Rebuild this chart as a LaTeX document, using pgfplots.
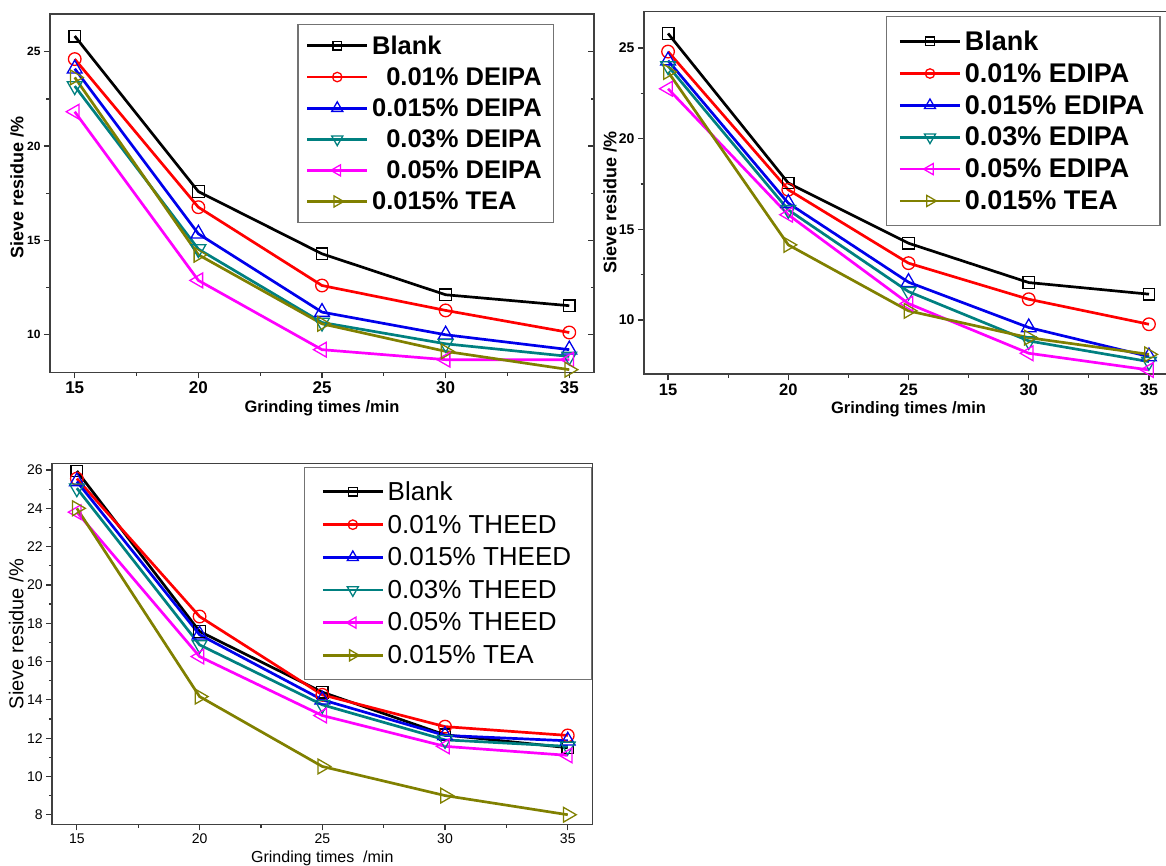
\documentclass[border=0pt]{standalone}
\usepackage{fontspec}
\setmainfont{Liberation Sans}
\usepackage{pgfplots}
\pgfplotsset{compat=1.18}
\definecolor{cRed}{RGB}{255,0,0}
\definecolor{cBlue}{RGB}{0,0,235}
\definecolor{cTeal}{RGB}{0,128,128}
\definecolor{cMag}{RGB}{255,0,255}
\definecolor{cOli}{RGB}{128,128,0}
\newcommand{\fs}[1]{\fontsize{#1}{#1}\selectfont}
\pgfplotsset{
  base/.style={scale only axis, xmin=14, xmax=36, xtick={15,20,25,30,35},
    minor x tick num=1, minor y tick num=1,
    tick pos=left, tick align=outside, major tick length=6pt, minor tick length=3.5pt,
    tick style={black!80, line width=1.2pt},
    axis line style={black!75, line width=1.6pt},
    /pgf/number format/assume math mode=true,
    legend cell align=left,
    legend image code/.code={\draw[mark repeat=2,mark phase=2,##1] plot coordinates {(0pt,0pt) (30pt,0pt) (60pt,0pt)};},
    legend image post style={every mark/.append style={scale=0.75}},
  },
  sA/.style={black, line width=2.7pt, mark=square, mark size=5.8pt, mark options={fill=white, line width=1.3pt}},
  sB/.style={cRed, line width=2.7pt, mark=o, mark size=6.3pt, mark options={fill=white, line width=1.3pt}},
  sC/.style={cBlue, line width=2.7pt, mark=triangle, mark size=8.5pt, mark options={fill=white, line width=1.3pt}},
  sD/.style={cTeal, line width=2.7pt, mark=triangle, mark size=8.5pt, mark options={fill=white, line width=1.3pt, rotate=180}},
  sE/.style={cMag, line width=2.7pt, mark=triangle, mark size=8.5pt, mark options={fill=white, line width=1.3pt, rotate=90}},
  sF/.style={cOli, line width=2.7pt, mark=triangle, mark size=8.5pt, mark options={fill=white, line width=1.3pt, rotate=-90}},
}
\begin{document}
\begin{tikzpicture}
\useasboundingbox (0,0) rectangle (1166pt,865pt);
\clip (0,0) rectangle (1166pt,865pt);
% ---------------- Panel 1: DEIPA ----------------
\begin{axis}[base, at={(50pt,492.5pt)}, anchor=south west, width=544pt, height=358.5pt,
  ymin=8, ymax=27, ytick={10,15,20,25},
  xticklabel style={font=\bfseries\fs{17}}, yticklabel style={font=\bfseries\fs{12}},
  xlabel={Grinding times /min}, ylabel={Sieve residue /\%},
  xlabel style={font=\bfseries\fs{16.5}, at={(axis description cs:0.5,0)}, anchor=base, yshift=-40.5pt},
  ylabel style={font=\bfseries\fs{18}, at={(axis description cs:-0.0607,0.515)}, anchor=center},
  legend style={at={(0.4546,0.972)}, anchor=north west, draw=black!55, line width=1.2pt,
    inner xsep=8pt, inner ysep=9pt, font=\bfseries\fs{25.5},
    nodes={inner xsep=3.5pt, inner ysep=2pt}, row sep=7.8pt}]
\addplot[sA] coordinates {(15,25.83) (20,17.59) (25,14.29) (30,12.12) (35,11.54)};
\addlegendentry{Blank}
\addplot[sB] coordinates {(15,24.61) (20,16.76) (25,12.61) (30,11.29) (35,10.12)};
\addlegendentry{\hphantom{5}0.01\% DEIPA}
\addplot[sC] coordinates {(15,24.1) (20,15.35) (25,11.2) (30,10.0) (35,9.21)};
\addlegendentry{0.015\% DEIPA}
\addplot[sD] coordinates {(15,23.18) (20,14.54) (25,10.65) (30,9.52) (35,8.85)};
\addlegendentry{\hphantom{5}0.03\% DEIPA}
\addplot[sE] coordinates {(15,21.82) (20,12.88) (25,9.21) (30,8.68) (35,8.68)};
\addlegendentry{\hphantom{5}0.05\% DEIPA}
\addplot[sF] coordinates {(15,23.64) (20,14.24) (25,10.58) (30,9.12) (35,8.15)};
\addlegendentry{0.015\% TEA}
\end{axis}
% right-hand axis ticks of panel 1 (pointing inward)
\begin{axis}[scale only axis, at={(50pt,492.5pt)}, anchor=south west, width=544pt, height=358.5pt,
  xmin=14, xmax=36, ymin=8, ymax=27, axis y line*=right, axis x line=none,
  ytick={10,15,20,25}, minor y tick num=1, yticklabels={}, tick align=inside,
  major tick length=6pt, minor tick length=3.5pt,
  tick style={black!80, line width=1.2pt}, axis line style={black!75, line width=1.6pt}]
\end{axis}
% ---------------- Panel 2: EDIPA ----------------
\begin{axis}[base, at={(644pt,490.7pt)}, anchor=south west, width=529pt, height=362.6pt,
  ymin=7, ymax=27, ytick={10,15,20,25},
  xticklabel style={font=\bfseries\fs{16.5}}, yticklabel style={font=\bfseries\fs{14}},
  xlabel={Grinding times /min}, ylabel={Sieve residue /\%},
  xlabel style={font=\bfseries\fs{16.5}, at={(axis description cs:0.5,0)}, anchor=base, yshift=-39pt},
  ylabel style={font=\bfseries\fs{18}, at={(axis description cs:-0.0643,0.475)}, anchor=center},
  legend style={at={(0.4575,0.9876)}, anchor=north west, draw=black!55, line width=1.2pt,
    inner xsep=12pt, inner ysep=12pt, font=\bfseries\fs{27},
    nodes={inner xsep=3.5pt, inner ysep=2pt}, row sep=7.5pt}]
\addplot[sA] coordinates {(15,25.8) (20,17.55) (25,14.23) (30,12.06) (35,11.42)};
\addlegendentry{Blank}
\addplot[sB] coordinates {(15,24.8) (20,17.18) (25,13.13) (30,11.14) (35,9.76)};
\addlegendentry{0.01\% EDIPA}
\addplot[sC] coordinates {(15,24.3) (20,16.44) (25,12.08) (30,9.58) (35,7.98)};
\addlegendentry{0.015\% EDIPA}
\addplot[sD] coordinates {(15,24.0) (20,16.07) (25,11.56) (30,8.84) (35,7.70)};
\addlegendentry{0.03\% EDIPA}
\addplot[sE] coordinates {(15,22.75) (20,15.8) (25,10.9) (30,8.16) (35,7.24)};
\addlegendentry{0.05\% EDIPA}
\addplot[sF] coordinates {(15,23.68) (20,14.14) (25,10.5) (30,9.02) (35,8.1)};
\addlegendentry{0.015\% TEA}
\end{axis}
% ---------------- Panel 3: THEED ----------------
\begin{axis}[base, at={(52.3pt,40.7pt)}, anchor=south west, width=540pt, height=361pt,
  ymin=7.5, ymax=26.35, ytick={8,10,...,26},
  xticklabel style={font=\fs{14}}, yticklabel style={font=\fs{14}},
  xlabel={Grinding times \ /min}, ylabel={Sieve residue /\%},
  xlabel style={font=\fs{16}, at={(axis description cs:0.5,0)}, anchor=base, yshift=-37.7pt},
  ylabel style={font=\fs{20}, at={(axis description cs:-0.067,0.527)}, anchor=center},
  legend style={at={(1,0.99)}, anchor=north east, draw=black!55, line width=1.2pt,
    inner xsep=17pt, inner ysep=12pt, font=\fs{26},
    nodes={inner xsep=3.5pt, inner ysep=2pt}, row sep=9pt}]
\addplot[sA] coordinates {(15,25.95) (20,17.57) (25,14.4) (30,12.17) (35,11.5)};
\addlegendentry{Blank}
\addplot[sB] coordinates {(15,25.55) (20,18.35) (25,14.26) (30,12.6) (35,12.14)};
\addlegendentry{0.01\% THEED}
\addplot[sC] coordinates {(15,25.4) (20,17.4) (25,14.0) (30,12.14) (35,11.86)};
\addlegendentry{0.015\% THEED}
\addplot[sD] coordinates {(15,25.05) (20,16.87) (25,13.74) (30,11.91) (35,11.57)};
\addlegendentry{0.03\% THEED}
\addplot[sE] coordinates {(15,23.8) (20,16.26) (25,13.18) (30,11.57) (35,11.1)};
\addlegendentry{0.05\% THEED}
\addplot[sF] coordinates {(15,24.0) (20,14.17) (25,10.52) (30,9.0) (35,8.0)};
\addlegendentry{0.015\% TEA}
\end{axis}
\end{tikzpicture}
\end{document}
